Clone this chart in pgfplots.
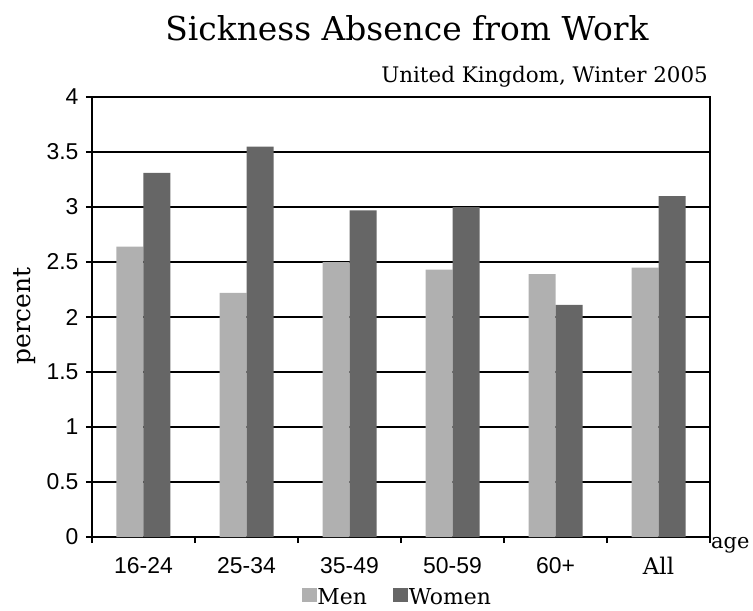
\documentclass[border=0pt]{standalone}
\usepackage{fontspec}
\setmainfont{DejaVu Serif}
\setsansfont{Liberation Sans}
\usepackage{pgfplots}
\pgfplotsset{compat=1.18}
\definecolor{menc}{HTML}{B0B0B0}
\definecolor{womenc}{HTML}{666666}
\begin{document}
\begin{tikzpicture}
\path[use as bounding box] (-92bp,-74bp) rectangle (661bp,537bp);
\begin{axis}[
  at={(0,0)}, anchor=south west,
  scale only axis, width=618bp, height=440bp,
  ymin=0, ymax=4, ytick={0,0.5,...,4},
  yticklabels={0,0.5,1,1.5,2,2.5,3,3.5,4},
  xmin=-0.5, xmax=5.5,
  xtick={0,...,5},
  xticklabels={16-24,25-34,35-49,50-59,60+,{\rmfamily All}},
  major x tick style={draw=none},
  minor xtick={-0.5,0.5,1.5,2.5,3.5,4.5,5.5},
  minor tick length=6bp,
  major tick length=6bp,
  tick align=outside,
  xtick pos=bottom, ytick pos=left,
  ymajorgrids, grid style={black, line width=1.4pt},
  axis line style={black, line width=2pt},
  tick style={black, line width=1.4pt},
  ticklabel style={font=\sffamily\fontsize{23}{23}\selectfont},
  yticklabel style={anchor=east, xshift=-4bp},
  /pgf/number format/assume math mode=true,
  xticklabel style={yshift=-11bp},
  xlabel={age},
  xlabel style={font=\fontsize{21}{21}\selectfont, at={(rel axis cs:1,0)}, anchor=base west, inner sep=0pt, xshift=1bp, yshift=-11bp},
  ybar=0pt, bar width=27bp,
  legend columns=2,
  legend style={draw=none, at={(0.493,-0.136)}, anchor=center, font=\fontsize{22}{22}\selectfont,
    nodes={inner sep=0.5bp},
    /tikz/every even column/.append style={column sep=26bp}},
  legend image code/.code={\fill[#1] (0bp,-5bp) rectangle (15bp,9bp);},
  clip=false,
]
\addplot[fill=menc, draw=none] coordinates {(0,2.64) (1,2.22) (2,2.50) (3,2.43) (4,2.39) (5,2.45)};
\addplot[fill=womenc, draw=none] coordinates {(0,3.31) (1,3.55) (2,2.97) (3,3.00) (4,2.11) (5,3.10)};
\legend{Men,Women}
\end{axis}
\node[rotate=90, font=\fontsize{25}{25}\selectfont, inner sep=0pt] at (-67bp,221bp) {percent};
\node[anchor=base, font=\fontsize{33}{33}\selectfont, inner sep=0pt] at (315bp,496bp) {Sickness Absence from Work};
\node[anchor=base east, font=\fontsize{21.5}{21.5}\selectfont, inner sep=0pt] at (616bp,454bp) {United Kingdom, Winter 2005};
\end{tikzpicture}
\end{document}
